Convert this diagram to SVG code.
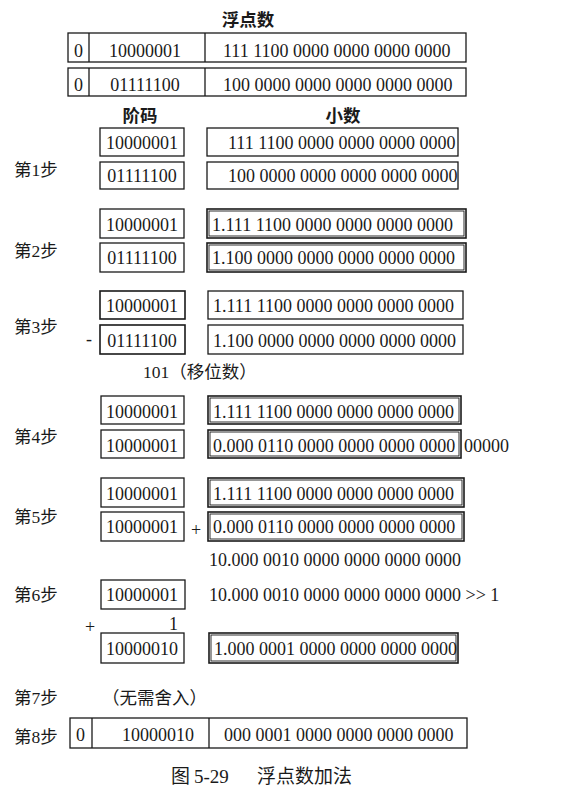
<svg xmlns="http://www.w3.org/2000/svg" width="575" height="796" viewBox="0 0 575 796">
<style>
.b{fill:none;stroke:#1a1a1a;stroke-width:1.3}
.bb{fill:none;stroke:#1a1a1a;stroke-width:1.6}
.in{fill:none;stroke:#1a1a1a;stroke-width:0.9}
.n{font-family:"Liberation Serif","Noto Sans CJK SC",serif;font-size:18px;fill:#1a1a1a}
.m{text-anchor:middle}
.c{font-family:"Liberation Serif","Noto Sans CJK SC",serif;font-size:17.5px;fill:#1a1a1a}
.h{font-family:"Noto Sans CJK SC",sans-serif;font-size:17.5px;font-weight:700;fill:#1a1a1a;text-anchor:middle}
</style>
<rect width="575" height="796" fill="#fff"/>
<g id="headers">
<text class="h" x="248" y="26">浮点数</text>
<text class="h" x="140" y="122">阶码</text>
<text class="h" x="343" y="122">小数</text>
</g>
<g id="float-a">
<rect class="b" x="68" y="33" width="398" height="29"/>
<line class="b" x1="89" y1="33" x2="89" y2="62"/><line class="b" x1="205" y1="33" x2="205" y2="62"/>
<text class="n" x="74" y="57">0</text>
<text class="n m" x="145" y="57">10000001</text>
<text class="n" x="223" y="57">111 1100 0000 0000 0000 0000</text>
</g>
<g id="float-b">
<rect class="b" x="68" y="68" width="398" height="28"/>
<line class="b" x1="89" y1="68" x2="89" y2="96"/><line class="b" x1="205" y1="68" x2="205" y2="96"/>
<text class="n" x="74" y="91">0</text>
<text class="n m" x="145" y="91">01111100</text>
<text class="n" x="223" y="91">100 0000 0000 0000 0000 0000</text>
</g>
<g id="step1">
<text class="c" x="14" y="176">第1步</text>
<rect class="b" x="100" y="128" width="84" height="28"/>
<rect class="b" x="207" y="128" width="251" height="28"/>
<text class="n m" x="142" y="149">10000001</text>
<text class="n" x="228" y="149">111 1100 0000 0000 0000 0000</text>
<rect class="b" x="100" y="162" width="84" height="27"/>
<rect class="b" x="207" y="162" width="251" height="27"/>
<text class="n m" x="142" y="182">01111100</text>
<text class="n" x="228" y="182">100 0000 0000 0000 0000 0000</text>
</g>
<g id="step2">
<text class="c" x="14" y="257">第2步</text>
<rect class="b" x="100" y="209" width="84" height="29"/>
<rect class="bb" x="207" y="209" width="259" height="29"/><rect class="in" x="209" y="211" width="255" height="25"/>
<text class="n m" x="142" y="231">10000001</text>
<text class="n" x="212" y="231">1.111 1100 0000 0000 0000 0000</text>
<rect class="b" x="100" y="243" width="84" height="29"/>
<rect class="bb" x="207" y="243" width="259" height="29"/><rect class="in" x="209" y="245" width="255" height="25"/>
<text class="n m" x="142" y="264">01111100</text>
<text class="n" x="212" y="264">1.100 0000 0000 0000 0000 0000</text>
</g>
<g id="step3">
<text class="c" x="14" y="333">第3步</text>
<rect class="bb" x="100" y="291" width="85" height="28"/>
<rect class="b" x="208" y="291" width="255" height="28"/>
<text class="n m" x="142" y="312">10000001</text>
<text class="n" x="213" y="312">1.111 1100 0000 0000 0000 0000</text>
<text class="n" x="86" y="345">-</text>
<rect class="bb" x="100" y="325" width="85" height="29"/>
<rect class="b" x="208" y="325" width="255" height="29"/>
<text class="n m" x="142" y="347">01111100</text>
<text class="n" x="213" y="347">1.100 0000 0000 0000 0000 0000</text>
<text class="c" x="143" y="378">101（移位数）</text>
</g>
<g id="step4">
<text class="c" x="14" y="443">第4步</text>
<rect class="b" x="101" y="396" width="83" height="28"/>
<rect class="bb" x="208" y="396" width="253" height="28"/><rect class="in" x="210" y="398" width="249" height="24"/>
<text class="n m" x="142" y="417.5">10000001</text>
<text class="n" x="213" y="417.5">1.111 1100 0000 0000 0000 0000</text>
<rect class="b" x="101" y="430" width="83" height="28"/>
<rect class="bb" x="208" y="430" width="253" height="28"/><rect class="in" x="210" y="432" width="249" height="24"/>
<text class="n m" x="142" y="452">10000001</text>
<text class="n" x="213" y="452">0.000 0110 0000 0000 0000 0000</text>
<text class="n" x="464" y="452">00000</text>
</g>
<g id="step5">
<text class="c" x="14" y="523">第5步</text>
<rect class="b" x="101" y="478" width="83" height="29"/>
<rect class="bb" x="208" y="478" width="256" height="29"/><rect class="in" x="210" y="480" width="252" height="25"/>
<text class="n m" x="142" y="500">10000001</text>
<text class="n" x="213" y="500">1.111 1100 0000 0000 0000 0000</text>
<rect class="b" x="101" y="512" width="83" height="29"/>
<text class="n m" x="196" y="536">+</text>
<rect class="bb" x="208" y="512" width="256" height="29"/><rect class="in" x="210" y="514" width="252" height="25"/>
<text class="n m" x="142" y="533">10000001</text>
<text class="n" x="213" y="533">0.000 0110 0000 0000 0000 0000</text>
<text class="n" x="209" y="566">10.000 0010 0000 0000 0000 0000</text>
</g>
<g id="step6">
<text class="c" x="14" y="601">第6步</text>
<rect class="b" x="101" y="580" width="84" height="29"/>
<text class="n m" x="142" y="600.5">10000001</text>
<text class="n" x="209" y="600.5">10.000 0010 0000 0000 0000 0000 &gt;&gt; 1</text>
<text class="n m" x="90" y="633">+</text>
<text class="n" x="169" y="630">1</text>
<rect class="b" x="101" y="633" width="83" height="30"/>
<rect class="bb" x="209" y="633" width="249" height="30"/><rect class="in" x="211" y="635" width="245" height="26"/>
<text class="n m" x="142" y="655">10000010</text>
<text class="n" x="214" y="655">1.000 0001 0000 0000 0000 0000</text>
</g>
<g id="step7">
<text class="c" x="14" y="704">第7步</text>
<text class="c" x="102" y="704">（无需舍入）</text>
</g>
<g id="step8">
<text class="c" x="14" y="743">第8步</text>
<rect class="b" x="70" y="718" width="397" height="30"/>
<line class="b" x1="92" y1="718" x2="92" y2="748"/><line class="b" x1="209" y1="718" x2="209" y2="748"/>
<text class="n" x="76" y="741">0</text>
<text class="n m" x="158" y="741">10000010</text>
<text class="n" x="224" y="741">000 0001 0000 0000 0000 0000</text>
</g>
<g id="connectors"></g>
<g id="caption">
<text class="c" style="font-size:19px" y="783"><tspan x="171">图</tspan><tspan x="194">5-29</tspan><tspan x="257">浮点数加法</tspan></text>
</g>
</svg>
